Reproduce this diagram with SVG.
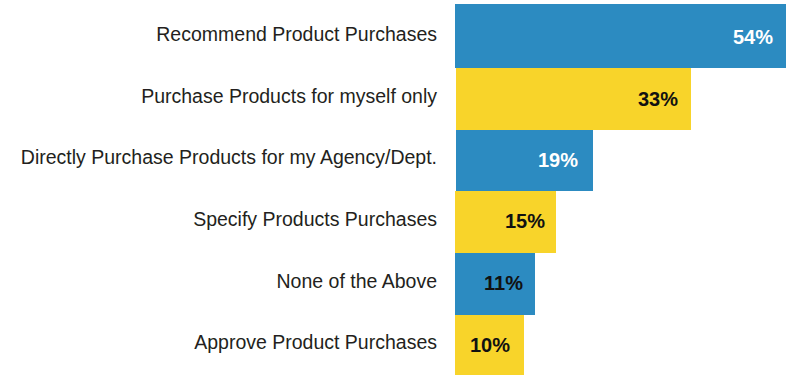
<svg xmlns="http://www.w3.org/2000/svg" width="791" height="375" viewBox="0 0 791 375">
<style>
.lbl{font-family:"Liberation Sans",Arial,sans-serif;font-size:19.5px;fill:#231f20;text-anchor:end}
.val{font-family:"Liberation Sans",Arial,sans-serif;font-size:20px;font-weight:bold;text-anchor:end}
.blue{fill:#2c8bc1}
.yellow{fill:#f8d42a}
.w{fill:#ffffff}
.k{fill:#111111}
</style>
<rect width="791" height="375" fill="#ffffff"/>
<g id="bar-recommend">
<rect class="blue" x="455" y="4" width="331" height="64"/>
<text class="lbl" x="437" y="41">Recommend Product Purchases</text>
<text class="val w" x="773" y="44">54%</text>
</g>
<g id="bar-myself">
<rect class="yellow" x="456" y="68" width="235" height="62"/>
<text class="lbl" x="437" y="103">Purchase Products for myself only</text>
<text class="val k" x="678" y="106">33%</text>
</g>
<g id="bar-agency">
<rect class="blue" x="456" y="130" width="137" height="61"/>
<text class="lbl" x="437" y="164">Directly Purchase Products for my Agency/Dept.</text>
<text class="val w" x="578" y="167">19%</text>
</g>
<g id="bar-specify">
<rect class="yellow" x="455" y="191" width="101" height="62"/>
<text class="lbl" x="437" y="226">Specify Products Purchases</text>
<text class="val k" x="545" y="228">15%</text>
</g>
<g id="bar-none">
<rect class="blue" x="455" y="253" width="80" height="62"/>
<text class="lbl" x="437" y="288">None of the Above</text>
<text class="val k" x="523" y="290">11%</text>
</g>
<g id="bar-approve">
<rect class="yellow" x="455" y="315" width="69" height="60"/>
<text class="lbl" x="437" y="349">Approve Product Purchases</text>
<text class="val k" x="510" y="352">10%</text>
</g>
</svg>
